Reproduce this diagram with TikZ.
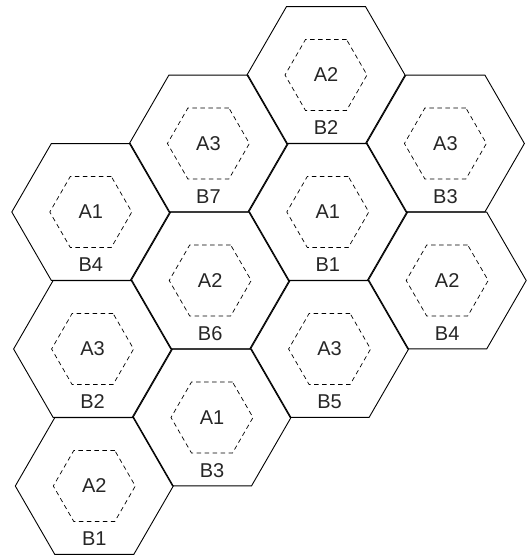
\documentclass[tikz,border=0pt]{standalone}
\usepackage{fontspec}
\setmainfont{Liberation Sans}
\usepackage{tikz}
\usetikzlibrary{shapes.geometric, positioning, calc}

\begin{document}
\begin{tikzpicture}[
    x=1pt, y=-1pt,
    font=\fontsize{20pt}{24pt}\selectfont,
    cell/.style={regular polygon, regular polygon sides=6, draw,
                 minimum size=158pt, inner sep=0pt, line width=0.9pt},
    sub/.style={regular polygon, regular polygon sides=6, draw, dash pattern=on 4.5pt off 3.5pt,
                minimum size=82pt, inner sep=0pt, line width=0.7pt, text=black!85},
    lbl/.style={inner sep=0pt, text=black!85},
  ]
  \useasboundingbox (0,0) rectangle (529,556);

  % outer cells, top to bottom (grid leans slightly to the right)
  \node[cell] (c1)  at (326.0,75.0)  {};
  \node[cell] (c2)  at (208.4,143.5) {};
  \node[cell] (c3)  at (445.4,143.5) {};
  \node[cell] (c4)  at (90.8,212.0)  {};
  \node[cell] (c5)  at (327.8,212.0) {};
  \node[cell] (c6)  at (210.2,280.5) {};
  \node[cell] (c7)  at (447.2,280.5) {};
  \node[cell] (c8)  at (92.6,349.0)  {};
  \node[cell] (c9)  at (329.6,349.0) {};
  \node[cell] (c10) at (212.0,417.5) {};
  \node[cell] (c11) at (94.3,486.0)  {};

  % dashed inner cells with the A labels
  \node[sub] (a1)  at (c1)  {A2};
  \node[sub] (a2)  at (c2)  {A3};
  \node[sub] (a3)  at (c3)  {A3};
  \node[sub] (a4)  at (c4)  {A1};
  \node[sub] (a5)  at (c5)  {A1};
  \node[sub] (a6)  at (c6)  {A2};
  \node[sub] (a7)  at (c7)  {A2};
  \node[sub] (a8)  at (c8)  {A3};
  \node[sub] (a9)  at (c9)  {A3};
  \node[sub] (a10) at (c10) {A1};
  \node[sub] (a11) at (c11) {A2};

  % B labels just above the bottom edge of each cell
  \node[lbl] (b1)  at ([yshift=-53pt]c1.center)  {B2};
  \node[lbl] (b2)  at ([yshift=-53pt]c2.center)  {B7};
  \node[lbl] (b3)  at ([yshift=-53pt]c3.center)  {B3};
  \node[lbl] (b4)  at ([yshift=-53pt]c4.center)  {B4};
  \node[lbl] (b5)  at ([yshift=-53pt]c5.center)  {B1};
  \node[lbl] (b6)  at ([yshift=-53pt]c6.center)  {B6};
  \node[lbl] (b7)  at ([yshift=-53pt]c7.center)  {B4};
  \node[lbl] (b8)  at ([yshift=-53pt]c8.center)  {B2};
  \node[lbl] (b9)  at ([yshift=-53pt]c9.center)  {B5};
  \node[lbl] (b10) at ([yshift=-53pt]c10.center) {B3};
  \node[lbl] (b11) at ([yshift=-53pt]c11.center) {B1};

\end{tikzpicture}
\end{document}
